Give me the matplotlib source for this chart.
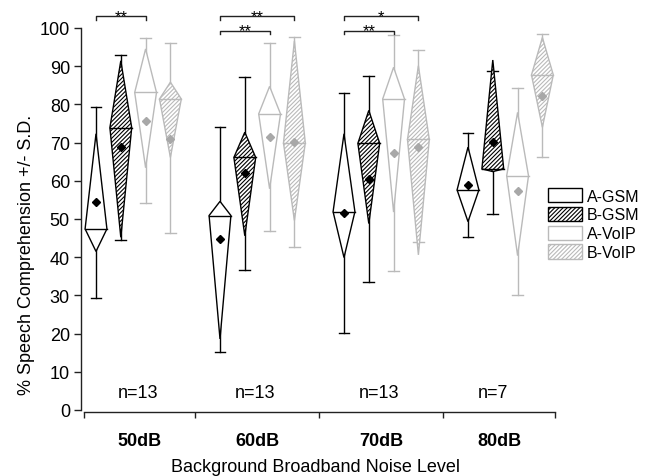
import matplotlib
matplotlib.use("Agg")
import matplotlib.pyplot as plt
from matplotlib.patches import Polygon, Patch

plt.rcParams['font.family'] = ['Liberation Sans', 'DejaVu Sans']
plt.rcParams['hatch.linewidth'] = 0.8

# ---------------- data ----------------
groups = ['50dB', '60dB', '70dB', '80dB']
series = ['A-GSM', 'B-GSM', 'A-VoIP', 'B-VoIP']
n_labels = ['n=13', 'n=13', 'n=13', 'n=7']

# per series: values for each noise level (50, 60, 70, 80 dB)
agsm_max  = [79.4, 74.0, 82.9, 72.4]
agsm_q3   = [72.3, 54.6, 72.3, 68.8]
agsm_med  = [47.4, 50.9, 51.9, 57.6]
agsm_q1   = [41.5, 18.6, 39.9, 49.3]
agsm_min  = [29.3, 15.3, 20.1, 45.2]
agsm_mean = [54.5, 44.8, 51.6, 58.9]

bgsm_max  = [93.0, 87.1, 87.3, 88.8]
bgsm_q3   = [91.4, 72.7, 78.4, 91.6]
bgsm_med  = [73.9, 66.1, 69.8, 63.1]
bgsm_q1   = [45.2, 45.6, 48.8, 62.4]
bgsm_min  = [44.6, 36.7, 33.4, 51.3]
bgsm_mean = [68.8, 62.0, 60.5, 70.1]

avoip_max  = [97.3, 96.0, 98.2, 84.4]
avoip_q3   = [94.5, 84.7, 89.7, 77.9]
avoip_med  = [83.1, 77.5, 81.4, 61.3]
avoip_q1   = [63.4, 57.9, 51.8, 40.4]
avoip_min  = [54.1, 46.8, 36.5, 30.1]
avoip_mean = [75.7, 71.4, 67.2, 57.2]

bvoip_max  = [96.0, 97.5, 94.1, 98.4]
bvoip_q3   = [85.8, 96.6, 90.1, 97.5]
bvoip_med  = [81.4, 69.9, 70.8, 87.7]
bvoip_q1   = [66.1, 49.6, 40.6, 74.0]
bvoip_min  = [46.2, 42.6, 43.9, 66.1]
bvoip_mean = [70.9, 70.2, 68.9, 82.3]

# significance brackets: (group index, series from, series to, height, label)
sig_group = [0, 1, 1, 2, 2]
sig_from  = [0, 0, 0, 0, 0]
sig_to    = [2, 3, 2, 3, 2]
sig_y     = [103.1, 103.1, 99.3, 103.1, 99.3]
sig_text  = ['**', '**', '**', '*', '**']

# ---------------- styling ----------------
BLACK = '#000000'
GRAY = '#bababa'
GRAY_MEAN = '#a8a8a8'
HATCH = '////////'
styles = [
    dict(color=BLACK, hatch=None, mcolor=BLACK),
    dict(color=BLACK, hatch=HATCH, mcolor=BLACK),
    dict(color=GRAY, hatch=None, mcolor=GRAY_MEAN),
    dict(color=GRAY, hatch=HATCH, mcolor=GRAY_MEAN),
]
stats = [
    (agsm_max, agsm_q3, agsm_med, agsm_q1, agsm_min, agsm_mean),
    (bgsm_max, bgsm_q3, bgsm_med, bgsm_q1, bgsm_min, bgsm_mean),
    (avoip_max, avoip_q3, avoip_med, avoip_q1, avoip_min, avoip_mean),
    (bvoip_max, bvoip_q3, bvoip_med, bvoip_q1, bvoip_min, bvoip_mean),
]

fig = plt.figure(figsize=(6.46, 4.77), dpi=100)
ax = fig.add_axes([81 / 646, 66 / 477, 479 / 646, 405 / 477])

GROUP_PITCH = 5
HW = 0.44     # kite half width
CAP = 0.22    # cap half width
LW = 1.0

def xpos(g, s):
    return g * GROUP_PITCH + s

for s, (st, sty) in enumerate(zip(stats, styles)):
    wmax, q3, med, q1, wmin, mean = st
    c = sty['color']
    for g in range(len(groups)):
        x = xpos(g, s)
        # whiskers + caps
        ax.plot([x, x], [wmin[g], wmax[g]], color=c, lw=LW, zorder=1)
        ax.plot([x - CAP, x + CAP], [wmax[g], wmax[g]], color=c, lw=LW, zorder=1)
        ax.plot([x - CAP, x + CAP], [wmin[g], wmin[g]], color=c, lw=LW, zorder=1)
        # kite
        poly = Polygon([(x, q3[g]), (x + HW, med[g]), (x, q1[g]), (x - HW, med[g])],
                       closed=True, facecolor='white', edgecolor=c, lw=LW,
                       hatch=sty['hatch'], zorder=2)
        ax.add_patch(poly)
        ax.plot([x - HW, x + HW], [med[g], med[g]], color=c, lw=LW, zorder=3)
        # mean
        ax.plot([x], [mean[g]], marker='D', ms=3.6, color=sty['mcolor'],
                mec=sty['mcolor'], zorder=4, ls='none')

# significance brackets
for g, a, b, y, t in zip(sig_group, sig_from, sig_to, sig_y, sig_text):
    x1, x2 = xpos(g, a), xpos(g, b)
    ax.plot([x1, x1, x2, x2], [y - 1.0, y, y, y - 1.0], color='#222222', lw=1.0,
            clip_on=False, zorder=5)
    ax.text((x1 + x2) / 2, y - 1.2, t, ha='center', va='baseline', fontsize=12,
            clip_on=False)

# n labels
n_x = [1.7, 6.4, 11.4, 16.0]
for xx, t in zip(n_x, n_labels):
    ax.text(xx, 4.7, t, ha='center', va='center', fontsize=13)

# axes
ax.set_xlim(-0.605, 18.71)
ax.set_ylim(0, 106)
ax.spines['top'].set_visible(False)
ax.spines['right'].set_visible(False)
ax.spines['left'].set_bounds(0, 100)
ax.spines['bottom'].set_bounds(-0.5, 18.5)
ax.spines['bottom'].set_position(('outward', 1.2))
for sp in ('left', 'bottom'):
    ax.spines[sp].set_linewidth(1.0)
    ax.spines[sp].set_color('#222222')

ax.set_yticks(range(0, 101, 10))
ax.tick_params(axis='y', direction='out', length=5, width=1.0, pad=3,
               labelsize=13, color='#222222')

ax.set_xticks([-0.5, 4, 9, 14, 18.5])
ax.set_xticklabels([''] * 5)
ax.tick_params(axis='x', which='major', direction='out', length=4.3, width=1.0,
               color='#222222')
ax.set_xticks([1.75, 6.5, 11.5, 16.25], minor=True)
ax.set_xticklabels(groups, minor=True, fontweight='bold', fontsize=13)
ax.tick_params(axis='x', which='minor', length=0, pad=15)

ax.set_ylabel('% Speech Comprehension +/- S.D.', fontsize=13)
ax.yaxis.set_label_coords(-0.097, 0.385)
ax.set_xlabel('Background Broadband Noise Level', fontsize=13)
ax.xaxis.set_label_coords(0.489, -0.118)

# legend
handles = [Patch(facecolor='white', edgecolor=sty['color'], hatch=sty['hatch'], lw=LW)
           for sty in styles]
fig.legend(handles, series, loc='upper left',
           bbox_to_anchor=(548 / 646, 1 - 189 / 477), frameon=False,
           borderpad=0, borderaxespad=0, handlelength=2.1, handleheight=1.0,
           handletextpad=0.33, labelspacing=0.2, fontsize=11.5)

fig.savefig('out.png', dpi=100)
